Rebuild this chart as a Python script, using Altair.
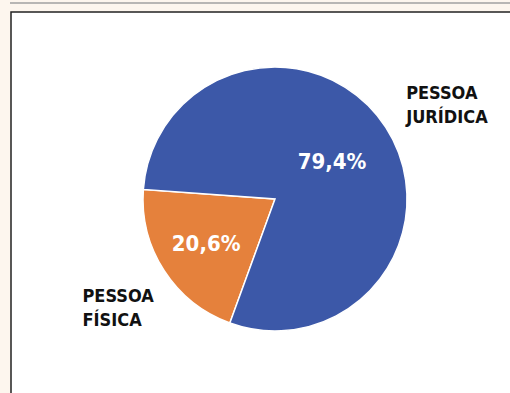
import altair as alt
import pandas as pd
import math

categories = ["PESSOA FÍSICA", "PESSOA JURÍDICA"]
shares = [20.6, 79.4]
pct_labels = ["20,6%", "79,4%"]
name_lines = [["PESSOA", "FÍSICA"], ["PESSOA", "JURÍDICA"]]
colors = ["#e5813c", "#3c58a8"]

df = pd.DataFrame({
    "cat": categories,
    "share": shares,
    "pct": pct_labels,
    "name": ["\n".join(l) for l in name_lines],
    "idx": [0, 1],
})

start = math.radians(200.0)
theta_scale = alt.Scale(domain=[0, 100], range=[start, start + 2 * math.pi])
CX, CY, R = 275, 199, 132
FONT = "DejaVu Sans Condensed, Roboto, sans-serif"

base = alt.Chart(df).transform_window(
    cum="sum(share)", sort=[alt.SortField("idx")]
).transform_calculate(mid="datum.cum - datum.share / 2")

bg = alt.Chart(df).mark_rect(fill="white", stroke="#222", strokeWidth=1.5).encode(
    x=alt.value(11), x2=alt.value(512), y=alt.value(12), y2=alt.value(395)
).transform_filter("datum.idx == 0")

topline = alt.Chart(df).mark_rule(color="#a0a0a0", strokeWidth=1.5).encode(
    x=alt.value(10), x2=alt.value(510), y=alt.value(3)
).transform_filter("datum.idx == 0")

arcs = base.mark_arc(radius=R, stroke="white", strokeWidth=1.5).encode(
    theta=alt.Theta("share:Q", stack=True, scale=theta_scale),
    order=alt.Order("idx:Q"),
    color=alt.Color("cat:N", scale=alt.Scale(domain=categories, range=colors), legend=None),
    x=alt.value(CX), y=alt.value(CY),
)

def pct_text(i, r):
    return base.transform_filter(f"datum.idx == {i}").mark_text(
        radius=r, font=FONT, fontWeight="bold", fontSize=22, color="white"
    ).encode(
        theta=alt.Theta("mid:Q", stack=None, scale=theta_scale),
        text="pct:N", x=alt.value(CX), y=alt.value(CY),
    )

def name_text(i, r, dx, dy):
    return base.transform_filter(f"datum.idx == {i}").mark_text(
        radius=r, font=FONT, fontWeight="bold", fontSize=18, color="#111",
        align="left", baseline="middle", lineBreak="\n", lineHeight=24, dx=dx, dy=dy,
    ).encode(
        theta=alt.Theta("mid:Q", stack=None, scale=theta_scale),
        text="name:N", x=alt.value(CX), y=alt.value(CY),
    )

chart = alt.layer(
    bg, topline, arcs,
    pct_text(0, 82), pct_text(1, 68),
    name_text(0, 221, -7, -22), name_text(1, 161, -4, -18),
).properties(
    width=510, height=393, background="#fdf6ee", padding=0,
    autosize=alt.AutoSizeParams(type="none"),
).configure_view(stroke=None)

chart.save("out.html", embed_options={"renderer": "svg", "actions": False})
